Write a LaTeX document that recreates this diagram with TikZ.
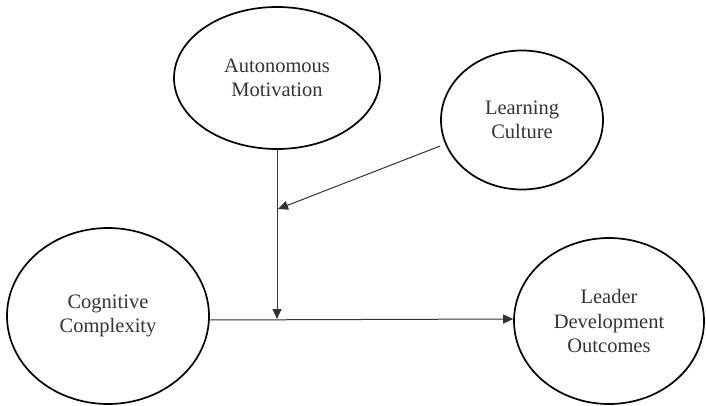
\documentclass[tikz,border=0pt]{standalone}
\usepackage{fontspec}
\setmainfont{Liberation Serif}
\usetikzlibrary{shapes.geometric,arrows.meta}
\begin{document}
\begin{tikzpicture}[x=1pt,y=-1pt,
  construct/.style={ellipse,draw=black,line width=1.7pt,inner sep=0pt,align=center,
    font=\fontsize{20.5}{24.5}\selectfont,text=black!80},
  link/.style={draw=black!80,line width=1pt},
  arr/.style={link,-{Triangle[length=10pt,width=9pt]}}]
\useasboundingbox (0,0) rectangle (706,406);
\node[construct,minimum width=206pt,minimum height=142pt] (am) at (277,78) {Autonomous\\Motivation};
\node[construct,minimum width=162pt,minimum height=139pt] (lc) at (522,120) {Learning\\Culture};
\node[construct,minimum width=202pt,minimum height=176pt] (cc) at (108,316) {Cognitive\\Complexity};
\node[construct,minimum width=190pt,minimum height=166pt] (ldo) at (609,321) {Leader\\Development\\Outcomes};
\coordinate (j1) at (277,319);
\coordinate (j2) at (278,209);
\draw[arr] (cc.east |- 0,320) -- (ldo.west |- 0,319);
\draw[arr] (am.south) -- (j1);
\draw[arr] (lc.west |- 0,146) -- (j2);
\end{tikzpicture}
\end{document}
